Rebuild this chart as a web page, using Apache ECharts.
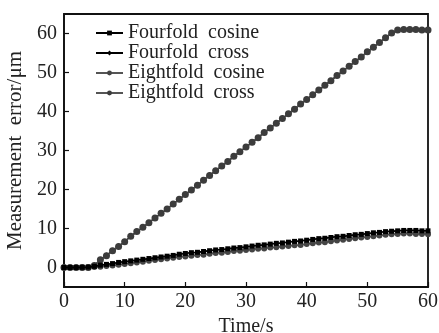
<!DOCTYPE html>
<html><head><meta charset="utf-8">
<script src="https://cdn.jsdelivr.net/npm/echarts@6/dist/echarts.min.js"></script>
<style>html,body{margin:0;padding:0;background:#fff}#c{width:439px;height:333px}</style>
</head><body><div id="c"></div>
<script>
var time = [0,1,2,3,4,5,6,7,8,9,10,11,12,13,14,15,16,17,18,19,20,21,22,23,24,25,26,27,28,29,30,31,32,33,34,35,36,37,38,39,40,41,42,43,44,45,46,47,48,49,50,51,52,53,54,55,56,57,58,59,60];
var fourfoldCosine = [0,0,0,0.05,0.1,0.3,0.6,0.8,1.0,1.3,1.5,1.7,1.9,2.1,2.3,2.5,2.7,2.9,3.1,3.4,3.6,3.8,3.9,4.1,4.3,4.5,4.6,4.8,5.0,5.1,5.3,5.5,5.7,5.8,6.0,6.2,6.3,6.5,6.7,6.8,7.0,7.2,7.4,7.5,7.7,7.9,8.0,8.2,8.4,8.5,8.7,8.9,9.0,9.2,9.3,9.4,9.5,9.5,9.5,9.4,9.4];
var fourfoldCross = [0,0,0,0,0,0.5,2.0,3.1,4.3,5.4,6.6,8.0,9.2,10.3,11.5,12.7,13.9,15.0,16.3,17.5,18.7,19.9,21.1,22.4,23.7,24.8,26.0,27.2,28.5,29.7,30.9,32.1,33.3,34.6,35.8,37.0,38.2,39.4,40.6,41.9,43.1,44.3,45.5,46.7,47.9,49.2,50.4,51.6,52.8,54.0,55.3,56.5,57.7,58.9,60.1,60.9,61.0,61.0,61.0,60.9,60.9];
var eightfoldCosine = [0,0,0,0,0,0.1,0.2,0.4,0.5,0.7,0.9,1.1,1.3,1.5,1.7,1.9,2.1,2.3,2.5,2.7,2.8,3.0,3.2,3.3,3.5,3.7,3.8,4.0,4.2,4.3,4.5,4.6,4.8,4.9,5.1,5.2,5.4,5.5,5.7,5.8,6.0,6.2,6.4,6.5,6.7,6.9,7.1,7.3,7.5,7.7,7.8,8.0,8.2,8.4,8.5,8.6,8.7,8.7,8.6,8.6,8.5];
var eightfoldCross = [0,0,0,0,0,0.5,2.0,3.0,4.3,5.4,6.6,8.0,9.2,10.3,11.5,12.7,13.9,15.0,16.3,17.5,18.7,19.9,21.1,22.4,23.6,24.8,26.0,27.2,28.5,29.7,30.9,32.1,33.3,34.6,35.8,37.0,38.2,39.4,40.6,41.9,43.1,44.3,45.5,46.7,47.9,49.2,50.4,51.6,52.8,54.0,55.3,56.5,57.7,58.9,60.1,60.9,61.0,61.0,61.0,60.9,60.9];
var xTicks = [0,10,20,30,40,50,60];
var yTicks = [0,10,20,30,40,50,60];
var seriesNames = ['Fourfold  cosine','Fourfold  cross','Eightfold  cosine','Eightfold  cross'];

function pairs(v){ return time.map(function(t,i){ return [t, v[i]]; }); }
var FONT = 'Liberation Serif';
var chart = echarts.init(document.getElementById('c'), null, {renderer:'canvas'});
chart.setOption({
  animation:false,
  backgroundColor:'#fff',
  grid:{left:64,right:11,top:14,bottom:46,show:true,borderColor:'#111',borderWidth:1.8,backgroundColor:'transparent',
    containLabel:false, outerBoundsMode:'none'},
  legend:{
    orient:'vertical', left:95, top:23, padding:0, itemWidth:27, itemHeight:6, itemGap:0,
    textStyle:{fontFamily:FONT,fontSize:20,color:'#222'},
    data:seriesNames
  },
  xAxis:{
    type:'value', min:0, max:60, interval:10,
    name:'Time/s', nameLocation:'middle', nameGap:29,
    nameTextStyle:{fontFamily:FONT,fontSize:20,color:'#222'},
    axisLine:{onZero:false,lineStyle:{color:'#111',width:1.5}},
    axisTick:{inside:true,length:5,lineStyle:{color:'#111',width:1.2}},
    axisLabel:{fontFamily:FONT,fontSize:20,color:'#222',margin:5},
    splitLine:{show:false}
  },
  yAxis:{
    type:'value', min:-5, max:65,
    name:'Measurement  error/μm', nameLocation:'middle', nameGap:28,
    nameTextStyle:{fontFamily:FONT,fontSize:21,color:'#222'},
    axisLine:{onZero:false,lineStyle:{color:'#111',width:1.5}},
    axisTick:{inside:true,length:5,customValues:yTicks,lineStyle:{color:'#111',width:1.2}},
    axisLabel:{fontFamily:FONT,fontSize:20,color:'#222',margin:7,customValues:yTicks},
    splitLine:{show:false}
  },
  series:[
    {name:seriesNames[0],type:'line',data:pairs(fourfoldCosine),symbol:'rect',symbolSize:5,z:5,
      lineStyle:{color:'#000',width:1.8},itemStyle:{color:'#000'}},
    {name:seriesNames[1],type:'line',data:pairs(fourfoldCross),symbol:'diamond',symbolSize:6,z:2,
      lineStyle:{color:'#000',width:1.5},itemStyle:{color:'#000'}},
    {name:seriesNames[2],type:'line',data:pairs(eightfoldCosine),symbol:'circle',symbolSize:6,z:3,
      lineStyle:{color:'#555',width:1.5},itemStyle:{color:'#444'}},
    {name:seriesNames[3],type:'line',data:pairs(eightfoldCross),symbol:'circle',symbolSize:7,z:4,
      lineStyle:{color:'#555',width:1.5},itemStyle:{color:'#3c3c3c'}}
  ]
});
</script></body></html>
